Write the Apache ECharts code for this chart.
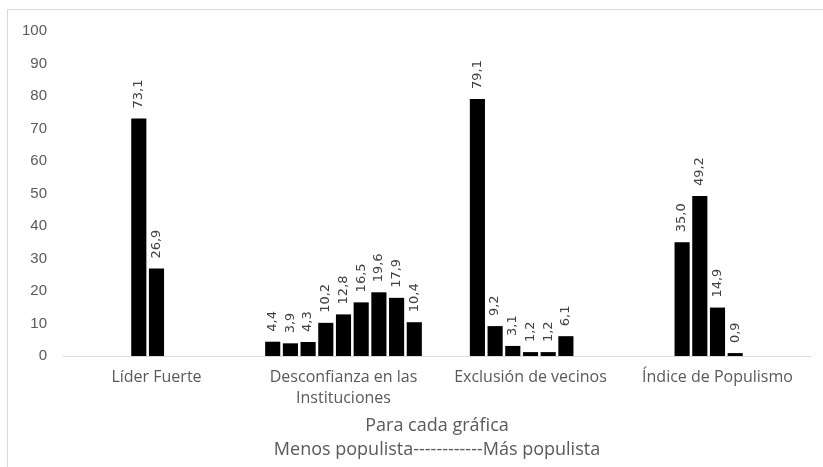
<!DOCTYPE html>
<html>
<head>
<meta charset="utf-8">
<script src="https://cdn.jsdelivr.net/npm/echarts@6/dist/echarts.min.js"></script>
<style>
  html, body { margin: 0; padding: 0; background: #fff; overflow: hidden; }
  #chart { width: 823px; height: 467px; }
</style>
</head>
<body>
<div id="chart"></div>
<script>
// Dimensiones del índice de populismo (porcentajes por nivel)
const categories = ['Líder Fuerte', 'Desconfianza en las\nInstituciones', 'Exclusión de vecinos', 'Índice de Populismo'];

// Un nivel por serie: de menos populista (nivel 1) a más populista (nivel 9)
const nivel1 = [null, 4.4, null, null];
const nivel2 = [null, 3.9, 79.1, null];
const nivel3 = [null, 4.3, 9.2, 35.0];
const nivel4 = [73.1, 10.2, 3.1, 49.2];
const nivel5 = [26.9, 12.8, 1.2, 14.9];
const nivel6 = [null, 16.5, 1.2, 0.9];
const nivel7 = [null, 19.6, 6.1, null];
const nivel8 = [null, 17.9, null, null];
const nivel9 = [null, 10.4, null, null];

const niveles = [nivel1, nivel2, nivel3, nivel4, nivel5, nivel6, nivel7, nivel8, nivel9];

const yTicks = { min: 0, max: 100, interval: 10 };

const axisTitle = 'Para cada gráfica\nMenos populista------------Más populista';

const fmt = v => Number(v).toFixed(1).replace('.', ',');

const chart = echarts.init(document.getElementById('chart'), null, { renderer: 'canvas' });

const series = niveles.map((vals, i) => ({
  name: 'Nivel ' + (i + 1),
  type: 'bar',
  data: vals,
  barGap: '17%',
  barCategoryGap: '16.2%',
  itemStyle: { color: '#000000' },
  label: {
    show: true,
    position: 'top',
    rotate: 90,
    align: 'left',
    verticalAlign: 'middle',
    distance: 10,
    color: '#404040',
    fontFamily: 'DejaVu Sans',
    fontSize: 13,
    formatter: p => fmt(p.value)
  }
}));

chart.setOption({
  animation: false,
  backgroundColor: '#ffffff',
  grid: { left: 63, right: 12, top: 31, bottom: 106, containLabel: false },
  xAxis: {
    type: 'category',
    data: categories,
    axisLine: { show: true, lineStyle: { color: '#d9d9d9', width: 1 } },
    axisTick: { show: false },
    axisLabel: {
      interval: 0,
      margin: 11,
      color: '#595959',
      fontFamily: 'Open Sans',
      fontSize: 16,
      lineHeight: 21
    },
    name: axisTitle,
    nameLocation: 'middle',
    nameGap: 58,
    nameTextStyle: {
      color: '#595959',
      fontFamily: 'Open Sans',
      fontSize: 18,
      lineHeight: 24
    }
  },
  yAxis: {
    type: 'value',
    min: yTicks.min,
    max: yTicks.max,
    interval: yTicks.interval,
    axisLine: { show: false },
    axisTick: { show: false },
    splitLine: { show: false },
    axisLabel: {
      margin: 16,
      color: '#595959',
      fontFamily: 'Liberation Sans',
      fontSize: 15
    }
  },
  // Marco del área del gráfico (bordes superior e izquierdo)
  graphic: [
    { type: 'line', shape: { x1: 7, y1: 9.5, x2: 823, y2: 9.5 }, style: { stroke: '#d9d9d9', lineWidth: 1 } },
    { type: 'line', shape: { x1: 7.5, y1: 9, x2: 7.5, y2: 467 }, style: { stroke: '#d9d9d9', lineWidth: 1 } }
  ],
  series: series
});
</script>
</body>
</html>
